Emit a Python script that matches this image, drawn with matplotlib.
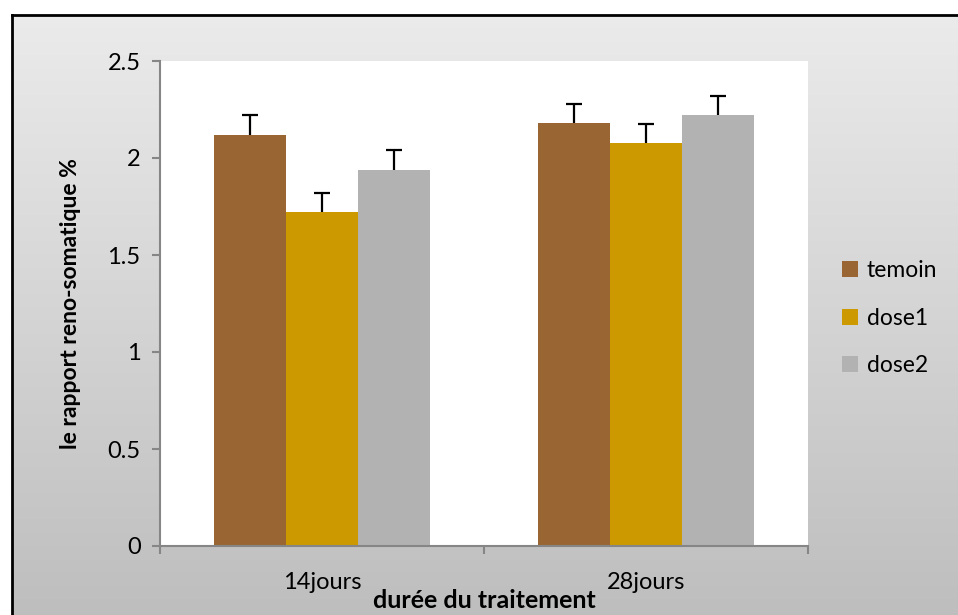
import matplotlib.pyplot as plt
import numpy as np

plt.rcParams['font.family'] = ['Lato', 'DejaVu Sans']

periods = ['14jours', '28jours']
groups = ['temoin', 'dose1', 'dose2']
means = {
    'temoin': [2.12, 2.18],
    'dose1': [1.72, 2.075],
    'dose2': [1.94, 2.22],
}
errors = {
    'temoin': [0.10, 0.10],
    'dose1': [0.10, 0.10],
    'dose2': [0.10, 0.10],
}
colors = {'temoin': '#996633', 'dose1': '#CC9900', 'dose2': '#B2B2B2'}

W, H = 958, 615
fig = plt.figure(figsize=(W / 100, H / 100), dpi=100)
fig.patch.set_facecolor('white')

# grey gradient chart background with black border
bg = fig.add_axes([12 / W, -0.02, 1.0, 1 - 15 / H + 0.02], zorder=-5)
grad = np.linspace(0, 1, 256).reshape(-1, 1)
bg.imshow(grad, aspect='auto', cmap=plt.cm.colors.LinearSegmentedColormap.from_list(
    'g', ['#EBEBEB', '#BDBDBD']), extent=[0, 1, 0, 1], origin='upper')
bg.set_xticks([])
bg.set_yticks([])
for s in bg.spines.values():
    s.set_color('black')
    s.set_linewidth(2)

ax = fig.add_axes([160 / W, 1 - 546 / H, (808 - 160) / W, (546 - 61) / H])
ax.set_facecolor('white')

x = np.arange(len(periods))
width = 0.222
for i, g in enumerate(groups):
    ax.bar(x + (i - 1) * width, means[g], width, color=colors[g], label=g,
           zorder=2)
    eb = ax.errorbar(x + (i - 1) * width, means[g],
                     yerr=[np.zeros(len(periods)), errors[g]],
                     fmt='none', ecolor='black', elinewidth=1.6, capsize=6,
                     capthick=1.6, zorder=3)
    eb[1][0].set_visible(False)  # only the upper cap

ax.set_xlim(-0.5, 1.5)
ax.set_ylim(0, 2.5)
ax.set_yticks([0, 0.5, 1, 1.5, 2, 2.5])
ax.set_yticklabels(['0', '0.5', '1', '1.5', '2', '2.5'])
ax.set_xticks([-0.5, 0.5, 1.5])
ax.set_xticklabels([])
ax.set_xticks(x, minor=True)
ax.set_xticklabels(periods, minor=True)
ax.tick_params(axis='x', which='minor', length=0, pad=19, labelsize=17)
ax.tick_params(axis='x', which='major', length=6, color='#868686', width=1.5)
ax.tick_params(axis='y', length=6, color='#868686', width=1.5, labelsize=17,
               pad=8)
for s in ['top', 'right']:
    ax.spines[s].set_visible(False)
for s in ['left', 'bottom']:
    ax.spines[s].set_color('#868686')
    ax.spines[s].set_linewidth(1.5)

ax.set_ylabel('le rapport reno-somatique %', fontsize=16.5, fontweight='bold',
              labelpad=19)
ax.set_xlabel('durée du traitement', fontsize=18, fontweight='bold',
              labelpad=-3)

leg = ax.legend(loc='center left', bbox_to_anchor=(1.02, 0.47), frameon=False,
                fontsize=16.5, handlelength=0.7, handleheight=0.7,
                labelspacing=1.15, handletextpad=0.4)

fig.savefig('out.png', dpi=100)
